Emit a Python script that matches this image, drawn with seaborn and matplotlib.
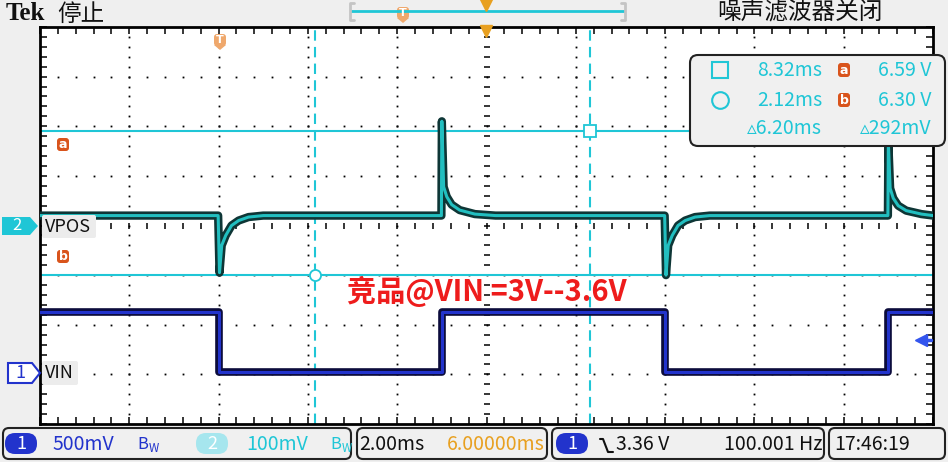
import numpy as np
import pandas as pd
import matplotlib.pyplot as plt
import seaborn as sns
from matplotlib.patches import FancyBboxPatch, Polygon

# ---- waveform data (time in ms over the 20 ms screen, volts) ----
vin_t = [0.0, 4.0, 4.0, 9.0, 9.0, 14.0, 14.0, 19.0, 19.0, 20.0]
vin_v = [3.6, 3.6, 3.0, 3.0, 3.6, 3.6, 3.0, 3.0, 3.6, 3.6]

vpos_t = [0.0, 3.99, 4.02, 4.07, 4.16, 4.29, 4.45, 4.67, 5.0,
          8.99, 9.0, 9.04, 9.11, 9.22, 9.40, 9.74, 10.2,
          13.99, 14.02, 14.07, 14.16, 14.29, 14.45, 14.67, 15.0,
          18.99, 19.0, 19.04, 19.11, 19.22, 19.40, 19.74, 20.0]
vpos_v = [6.42, 6.42, 6.305, 6.36, 6.38, 6.40, 6.41, 6.417, 6.42,
          6.42, 6.61, 6.478, 6.458, 6.442, 6.431, 6.423, 6.42,
          6.42, 6.30, 6.36, 6.38, 6.40, 6.41, 6.417, 6.42,
          6.42, 6.567, 6.475, 6.455, 6.44, 6.43, 6.423, 6.42]

cursor_v = [6.59, 6.30]     # horizontal cursors a / b (ch2)
cursor_t = [6.16, 12.32]    # vertical cursors
readout_time = ["8.32ms", "2.12ms", "\u25b56.20ms"]
readout_volt = ["6.59 V", "6.30 V", "\u25b5292mV"]

# channel settings: volts/div and a reference level placed at a division
CH1_SCALE, CH1_REF_V, CH1_REF_DIV = 0.5, 3.0, 1.05
CH2_SCALE, CH2_REF_V, CH2_REF_DIV = 0.1, 6.30, 3.0

CYAN = '#1fc6d6'
BLUE = '#2233cc'
ORANGE = '#e8a020'

sns.set_style('white')
plt.rcParams['font.family'] = ['Liberation Sans Narrow', 'Noto Sans CJK SC', 'DejaVu Sans']

fig = plt.figure(figsize=(9.48, 4.62), dpi=100, facecolor='#efefef')
ax = fig.add_axes([40 / 948, 1 - 424 / 462, 893 / 948, 397 / 462])
ax.set_facecolor('white')
ax.set_xlim(0, 20)
ax.set_ylim(0, 8)

# graticule: dotted lines and centre cross
minor_x = np.arange(0, 20.01, 0.4)
minor_y = np.arange(0, 8.01, 0.2)
for gx in [2, 4, 6, 8, 12, 14, 16, 18]:
    ax.plot([gx] * len(minor_y), minor_y, ls='none', marker='s', ms=1.3, mew=0, color='k', zorder=1)
for gy in [1, 2, 3, 5, 6, 7]:
    ax.plot(minor_x, [gy] * len(minor_x), ls='none', marker='s', ms=1.3, mew=0, color='k', zorder=1)
ax.plot([10] * len(minor_y), minor_y, ls='none', marker='_', ms=5, mew=1.1, color='k', zorder=1)
ax.plot(minor_x, [4] * len(minor_x), ls='none', marker='|', ms=5, mew=1.1, color='k', zorder=1)

ax.set_xticks(np.arange(0, 21, 2))
ax.set_xticks(minor_x, minor=True)
ax.set_yticks(np.arange(0, 9, 1))
ax.set_yticks(minor_y, minor=True)
ax.tick_params(which='both', direction='in', length=5, width=1.1, color='k',
               top=True, bottom=True, left=True, right=True,
               labelbottom=False, labelleft=False)
for sp in ax.spines.values():
    sp.set_color('k')
    sp.set_linewidth(2)

# cursors
for v in cursor_v:
    ax.axhline(CH2_REF_DIV + (v - CH2_REF_V) / CH2_SCALE, color=CYAN, lw=1.5, zorder=2)
for t in cursor_t:
    ax.axvline(t, color=CYAN, lw=1.5, ls=(0, (5, 3)), zorder=2)
ya = CH2_REF_DIV + (cursor_v[0] - CH2_REF_V) / CH2_SCALE
yb = CH2_REF_DIV + (cursor_v[1] - CH2_REF_V) / CH2_SCALE
ax.plot(cursor_t[1], ya, marker='s', ms=8, mfc='white', mec=CYAN, mew=1.3, zorder=6)
ax.plot(cursor_t[0], yb, marker='o', ms=8, mfc='white', mec=CYAN, mew=1.3, zorder=6)

# traces
vin = pd.DataFrame({'t': vin_t, 'div': [CH1_REF_DIV + (v - CH1_REF_V) / CH1_SCALE for v in vin_v]})
vpos = pd.DataFrame({'t': vpos_t, 'div': [CH2_REF_DIV + (v - CH2_REF_V) / CH2_SCALE for v in vpos_v]})
sns.lineplot(data=vin, x='t', y='div', ax=ax, sort=False, estimator=None, color='#0c0c3c', lw=5.5, zorder=3)
sns.lineplot(data=vin, x='t', y='div', ax=ax, sort=False, estimator=None, color=BLUE, lw=2.2, zorder=4)
sns.lineplot(data=vpos, x='t', y='div', ax=ax, sort=False, estimator=None, color='#0e3636', lw=6, zorder=3)
sns.lineplot(data=vpos, x='t', y='div', ax=ax, sort=False, estimator=None, color='#22bfc0', lw=2.2, zorder=4)
ax.set_xlabel('')
ax.set_ylabel('')

# ---- overlay in pixel coordinates for the scope chrome ----
ov = fig.add_axes([0, 0, 1, 1], zorder=5)
ov.set_xlim(0, 948)
ov.set_ylim(462, 0)
ov.axis('off')
ov.patch.set_alpha(0)


def box(x0, y0, x1, y1, fc, ec, r=6, lw=1.5):
    ov.add_patch(FancyBboxPatch((x0, y0), x1 - x0, y1 - y0,
                                boxstyle=f'round,pad=0,rounding_size={r}',
                                fc=fc, ec=ec, lw=lw))


def txt(x, y, s, **kw):
    kw.setdefault('va', 'center')
    ov.text(x, y, s, **kw)


def tmark(x, y):
    box(x - 6, y - 7, x + 6, y + 5, '#efa86c', 'none', r=3)
    ov.add_patch(Polygon([[x - 6, y + 4], [x + 6, y + 4], [x, y + 9]], closed=True, fc='#efa86c', ec='none'))
    txt(x, y - 1, 'T', color='white', fontsize=8, fontweight='bold', ha='center', family=['DejaVu Sans'])


# top bar
txt(6, 13, 'Tek', fontsize=18, fontweight='bold', family=['Liberation Serif'], color='#111')
txt(57, 14, '停止', fontsize=17, family=['Noto Sans CJK SC'], color='#111')
txt(717, 13, '噪声滤波器关闭', fontsize=17, family=['Noto Sans CJK SC'], color='#111')
ov.plot([351, 624], [11, 11], color=CYAN, lw=2)
ov.plot([354, 350, 350, 354], [3, 3, 20, 20], color='#c4c4c4', lw=2)
ov.plot([621, 625, 625, 621], [3, 3, 20, 20], color='#c4c4c4', lw=2)
tmark(403, 14)
ov.plot(486, 5, marker='v', ms=9, color=ORANGE, mec=ORANGE)
ov.plot(486, 31, marker='v', ms=9, color=ORANGE, mec=ORANGE)
tmark(220, 41)

# channel markers on the left
ov.add_patch(Polygon([[2, 217], [30, 217], [38, 226], [30, 235], [2, 235]], closed=True, fc=CYAN, ec='none'))
txt(12, 226, '2', color='white', fontsize=12)
box(42, 215, 96, 238, '#ececec', 'none', r=2)
txt(45, 227, 'VPOS', color='#111', fontsize=13)
ov.add_patch(Polygon([[8, 363], [32, 363], [40, 373], [32, 383], [8, 383]], closed=True, fc='white', ec=BLUE, lw=1.5))
txt(15, 373, '1', color=BLUE, fontsize=13)
box(42, 361, 78, 385, '#ececec', 'none', r=2)
txt(45, 373, 'VIN', color='#111', fontsize=13)

for lab, y in [('a', 145), ('b', 257)]:
    box(57, y - 7, 69, y + 6, '#d9541c', 'none', r=3)
    txt(63, y, lab, color='white', fontsize=9, ha='center', fontweight='bold', family=['DejaVu Sans'])

# trigger level arrow on the right
ov.plot(921, 340, marker='<', ms=8, color='#3355ee', mec='#3355ee')
ov.plot([921, 931], [340, 340], color='#3355ee', lw=2.5)

# cursor readout
box(690, 55, 945, 146, '#f0f0f0', '#222', r=8, lw=1.5)
ov.plot(720, 70, marker='s', ms=12, mfc='none', mec=CYAN, mew=1.5)
ov.plot(720, 100, marker='o', ms=12, mfc='none', mec=CYAN, mew=1.5)
for i, (s_t, s_v) in enumerate(zip(readout_time, readout_volt)):
    y = 71 + 29 * i
    txt(822, y, s_t, color=CYAN, fontsize=14, ha='right')
    txt(931, y, s_v, color=CYAN, fontsize=14, ha='right')
for lab, y in [('a', 70), ('b', 100)]:
    box(838, y - 7, 850, y + 7, '#d9541c', 'none', r=3)
    txt(844, y, lab, color='white', fontsize=9, ha='center', fontweight='bold', family=['DejaVu Sans'])

# annotation
txt(487, 291, '竞品@VIN =3V--3.6V', color='#ee1c1c', fontsize=21, fontweight='bold',
    ha='center', family=['Noto Sans CJK SC'])

# status bar
box(3, 428, 351, 459, '#f0f0f0', '#222')
box(357, 428, 547, 459, '#f0f0f0', '#222')
box(552, 428, 824, 459, '#f0f0f0', '#222')
box(829, 428, 945, 459, '#f0f0f0', '#222')
box(5, 433, 37, 454, BLUE, 'none', r=10)
txt(21, 444, '1', color='white', fontsize=13, ha='center')
txt(53, 444, '500mV', color=BLUE, fontsize=14)
txt(137, 445, r'B$_\mathregular{W}$', color=BLUE, fontsize=12)
box(196, 433, 228, 454, '#a6e6ee', 'none', r=10)
txt(212, 444, '2', color='white', fontsize=13, ha='center')
txt(246, 444, '100mV', color=CYAN, fontsize=14)
txt(330, 445, r'B$_\mathregular{W}$', color=CYAN, fontsize=12)
txt(359, 444, '2.00ms', color='#111', fontsize=14)
txt(545, 444, '6.00000ms', color=ORANGE, fontsize=14, ha='right')
box(556, 433, 588, 454, BLUE, 'none', r=10)
txt(572, 444, '1', color='white', fontsize=13, ha='center')
ov.plot([600, 603, 608, 613], [439, 439, 452, 452], color='#111', lw=1.5)
txt(616, 444, '3.36 V', color='#111', fontsize=14)
txt(823, 444, '100.001 Hz', color='#111', fontsize=14, ha='right')
txt(834, 444, '17:46:19', color='#111', fontsize=14)

fig.savefig('out.png', dpi=100, facecolor=fig.get_facecolor())
